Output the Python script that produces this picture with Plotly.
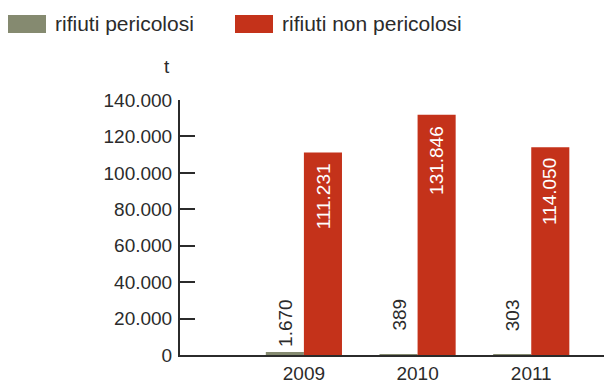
import plotly.graph_objects as go

# Data
years = ["2009", "2010", "2011"]
series_names = ["rifiuti pericolosi", "rifiuti non pericolosi"]
pericolosi = [1670, 389, 303]
non_pericolosi = [111231, 131846, 114050]
pericolosi_labels = ["1.670", "389", "303"]
non_pericolosi_labels = ["111.231", "131.846", "114.050"]
y_ticks = [0, 20000, 40000, 60000, 80000, 100000, 120000, 140000]
y_tick_labels = ["0", "20.000", "40.000", "60.000", "80.000", "100.000", "120.000", "140.000"]
unit_label = "t"

GREY = "#858a70"
RED = "#c4321a"
INK = "#2b2b2b"
FONT = "Liberation Sans"

W, H = 604, 383
L, R, T, B = 180, 0, 100, 28
PW, PH = W - L - R, H - T - B
BAR_PX = 38  # width of one bar in pixels (used to offset the labels)


def px(x, y):
    """Convert page pixel coordinates to paper coordinates."""
    return (x - L) / PW, (H - B - y) / PH


fig = go.Figure()
fig.add_trace(go.Bar(
    x=years, y=pericolosi, name=series_names[0],
    marker=dict(color=GREY, line=dict(width=0)),
))
fig.add_trace(go.Bar(
    x=years, y=non_pericolosi, name=series_names[1],
    marker=dict(color=RED, line=dict(width=0)),
))

annotations = []
# Value labels inside the red bars, reading upwards, just below each bar top
for i, (val, lab) in enumerate(zip(non_pericolosi, non_pericolosi_labels)):
    annotations.append(dict(
        x=i, y=val, xref="x", yref="y", xshift=BAR_PX / 2, yshift=-9,
        xanchor="center", yanchor="top", textangle=-90, showarrow=False,
        text=lab, font=dict(family=FONT, size=19, color="white"),
    ))

# Value labels above the small grey bars, all hanging from a common line
_, top_line = px(0, 297)
for i, lab in enumerate(pericolosi_labels):
    annotations.append(dict(
        x=i, y=top_line, xref="x", yref="paper", xshift=-BAR_PX / 2,
        xanchor="center", yanchor="top", textangle=-90, showarrow=False,
        text=lab, font=dict(family=FONT, size=19, color=INK),
    ))

# Legend drawn by hand: wide swatches plus labels
shapes = []
for (x0, x1, color, tx, name) in [(8, 46, GREY, 53, series_names[0]),
                                  (235, 273, RED, 280, series_names[1])]:
    a = px(x0, 33)
    b = px(x1, 15)
    shapes.append(dict(type="rect", xref="paper", yref="paper",
                       x0=a[0], y0=a[1], x1=b[0], y1=b[1],
                       fillcolor=color, line=dict(width=0)))
    p = px(tx, 24)
    annotations.append(dict(xref="paper", yref="paper", x=p[0], y=p[1],
                            xanchor="left", yanchor="middle", showarrow=False,
                            text=name, font=dict(family=FONT, size=21, color=INK)))

p = px(167, 66)
annotations.append(dict(xref="paper", yref="paper", x=p[0], y=p[1],
                        xanchor="center", yanchor="middle", showarrow=False,
                        text=unit_label, font=dict(family=FONT, size=19, color=INK)))

fig.update_layout(
    width=W, height=H,
    margin=dict(l=L, r=R, t=T, b=B, pad=0),
    paper_bgcolor="white", plot_bgcolor="white",
    barmode="group", bargap=0.33, bargroupgap=0,
    showlegend=False,
    shapes=shapes, annotations=annotations,
    font=dict(family=FONT, size=19, color=INK),
)
fig.update_xaxes(
    type="category",
    range=[-1.09, 2.64], showgrid=False, showline=True, linecolor=INK,
    linewidth=2, ticks="", tickfont=dict(family=FONT, size=19, color=INK),
    fixedrange=True,
)
fig.update_yaxes(
    range=[0, 140000], tickvals=y_ticks, ticktext=y_tick_labels,
    showgrid=False, zeroline=False, showline=True, linecolor=INK, linewidth=2,
    ticks="inside", ticklen=15, tickwidth=2, tickcolor=INK,
    ticklabelstandoff=2,
    tickfont=dict(family=FONT, size=19, color=INK), fixedrange=True,
)

fig.write_html("out.html")
